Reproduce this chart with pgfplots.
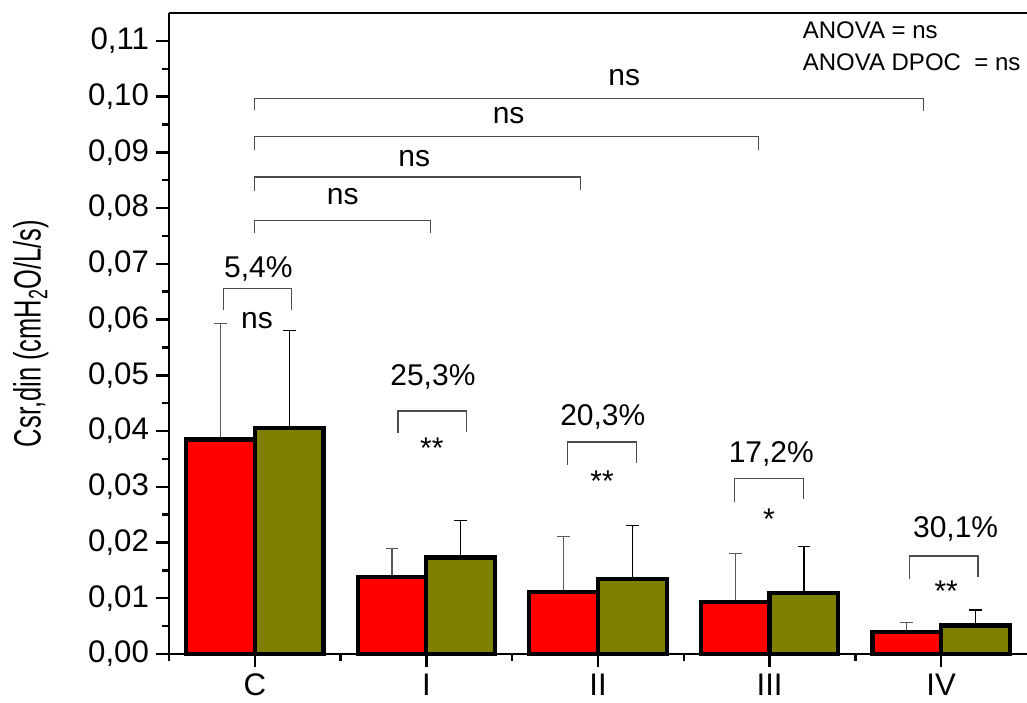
\documentclass[border=0pt]{standalone}
\usepackage{pgfplots}
\pgfplotsset{compat=1.18}
\usepackage{pgfplotstable}
\usepackage{fontspec}
\setmainfont{Liberation Sans}

\definecolor{barred}{RGB}{255,0,0}
\definecolor{barolive}{RGB}{128,128,0}

\newcommand{\fs}{\fontsize{15}{18}\selectfont}

% group, mean and upper error for the two series
\pgfplotstableread{
x  red     redp    olive   olivep
0  0.0385  0.0208  0.0406  0.0174
1  0.0138  0.0051  0.0173  0.0066
2  0.0111  0.0100  0.0134  0.0097
3  0.0094  0.0087  0.0110  0.0083
4  0.0039  0.0017  0.0051  0.0028
}\datatable

\begin{document}
\begin{tikzpicture}
\path[use as bounding box] (-84.5pt,-24pt) rectangle (429pt,327pt);
\begin{axis}[
  at={(0,0)}, anchor=south west,
  scale only axis, width=429pt, height=320.5pt,
  xmin=-0.5, xmax=4.5, ymin=0, ymax=0.115,
  clip=false,
  axis x line*=bottom, axis y line*=left,
  axis line style={line width=1.4pt},
  tick align=outside,
  major tick length=6.5pt, minor tick length=3.5pt,
  tick style={line width=1.2pt, black},
  xtick={0,1,2,3,4},
  xticklabels={C,I,II,III,IV},
  minor xtick={-0.5,0.5,1.5,2.5,3.5},
  ytick={0,0.01,0.02,0.03,0.04,0.05,0.06,0.07,0.08,0.09,0.10,0.11},
  minor ytick={0.005,0.015,0.025,0.035,0.045,0.055,0.065,0.075,0.085,0.095,0.105},
  scaled y ticks=false,
  yticklabel style={/pgf/number format/.cd, fixed, fixed zerofill, precision=2, use comma, assume math mode=true},
  ticklabel style={font=\fontsize{15.6}{18}\selectfont},
  every axis y label/.style={at={(axis description cs:-0.1495,0.5)}, rotate=90, anchor=base},
  ylabel={\fontsize{19}{22}\selectfont\scalebox{0.67}[1]{Csr,din (cmH\textsubscript{2}O/L/s)}},
]
\draw[line width=0.9pt] (rel axis cs:0,1) -- (rel axis cs:1,1);

% upper error bars, drawn at the centre of each bar
\addplot[draw=none, mark=none, forget plot,
  error bars/.cd, y dir=plus, y explicit,
  error bar style={line width=0.6pt, black!65},
  error mark options={rotate=90, mark size=3.2pt, line width=0.6pt, black!65}]
  table[x expr=\thisrow{x}-0.2, y=red, y error=redp] {\datatable};
\addplot[draw=none, mark=none, forget plot,
  error bars/.cd, y dir=plus, y explicit,
  error bar style={line width=0.6pt, black},
  error mark options={rotate=90, mark size=3.2pt, line width=0.6pt, black}]
  table[x expr=\thisrow{x}+0.2, y=olive, y error=olivep] {\datatable};

\addplot[ybar, bar width=0.4, bar shift=-0.2, fill=barred, draw=black, line width=2.1pt]
  table[x=x, y=red] {\datatable};
\addplot[ybar, bar width=0.4, bar shift=0.2, fill=barolive, draw=black, line width=2.1pt]
  table[x=x, y=olive] {\datatable};

% comparisons against the control group
\begin{scope}[line width=0.7pt, black!70]
\draw (axis cs:0,0.09767) -- (axis cs:0,0.09964) -- (axis cs:3.898,0.09964) -- (axis cs:3.898,0.0975);
\draw (axis cs:0,0.09036) -- (axis cs:0,0.09287) -- (axis cs:2.936,0.09287) -- (axis cs:2.936,0.0905);
\draw (axis cs:0,0.08312) -- (axis cs:0,0.08558) -- (axis cs:1.898,0.08558) -- (axis cs:1.898,0.0832);
\draw (axis cs:0,0.07558) -- (axis cs:0,0.07774) -- (axis cs:1.0225,0.07774) -- (axis cs:1.0225,0.0755);
% paired comparisons within each group
\draw (axis cs:-0.182,0.06176) -- (axis cs:-0.182,0.06553) -- (axis cs:0.214,0.06553) -- (axis cs:0.214,0.06176);
\draw (axis cs:0.8335,0.03963) -- (axis cs:0.8335,0.04363) -- (axis cs:1.233,0.04363) -- (axis cs:1.233,0.0399);
\draw (axis cs:1.823,0.03393) -- (axis cs:1.823,0.03806) -- (axis cs:2.223,0.03806) -- (axis cs:2.223,0.0343);
\draw (axis cs:2.797,0.02734) -- (axis cs:2.797,0.03147) -- (axis cs:3.199,0.03147) -- (axis cs:3.199,0.02783);
\draw (axis cs:3.816,0.01346) -- (axis cs:3.816,0.01759) -- (axis cs:4.214,0.01759) -- (axis cs:4.214,0.01382);
\end{scope}

\begin{scope}[every node/.style={anchor=base, font=\fs, inner sep=0pt}]
\node at (axis cs:2.153,0.10197) {ns};
\node at (axis cs:1.479,0.09515) {ns};
\node at (axis cs:0.929,0.08749) {ns};
\node at (axis cs:0.513,0.08061) {ns};
\node at (axis cs:0.021,0.06763) {5,4\%};
\node at (axis cs:0.013,0.05847) {ns};
\node at (axis cs:1.038,0.04811) {25,3\%};
\node at (axis cs:2.028,0.04093) {20,3\%};
\node at (axis cs:3.010,0.03434) {17,2\%};
\node at (axis cs:4.084,0.02095) {30,1\%};
\node at (axis cs:1.032,0.03504) {**};
\node at (axis cs:2.024,0.02919) {**};
\node at (axis cs:2.996,0.02237) {*};
\node at (axis cs:4.029,0.00950) {**};
\end{scope}

\begin{scope}[every node/.style={anchor=base west, font=\fontsize{12}{14}\selectfont, inner sep=0pt}]
\node at (axis cs:3.191,0.11036) {ANOVA = ns};
\node at (axis cs:3.191,0.10472) {ANOVA DPOC\ \ = ns};
\end{scope}
\end{axis}
\end{tikzpicture}
\end{document}
